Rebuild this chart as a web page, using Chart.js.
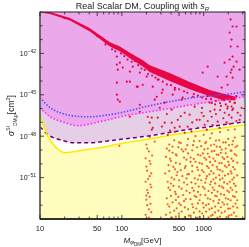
<!DOCTYPE html>
<html>
<head>
<meta charset="utf-8">
<script src="https://cdn.jsdelivr.net/npm/chart.js@4.4.0/dist/chart.umd.min.js"></script>
<style>
  html, body { margin: 0; padding: 0; background: #fff; }
  canvas { display: block; }
</style>
</head>
<body>
<canvas id="chart" width="249" height="247"></canvas>
<script>
// all values are [log10(M / GeV), log10(sigma / cm^2)]

const massTicks = [10, 50, 100, 500, 1000];
const sigmaTickExps = [-51, -48, -45, -42];

// blue dotted limit
const blueLimit = [[1.0,-45.21],[1.122,-45.93],[1.329,-46.44],[1.61,-46.59],[1.854,-46.44],[2.037,-46.23],
  [2.341,-45.79],[2.646,-45.43],[2.951,-45.14],[3.256,-44.99],[3.512,-44.77]];
// magenta dotted limit (edge of pink region)
const magentaLimit = [[1.0,-45.93],[1.122,-46.59],[1.305,-47.02],[1.463,-47.24],[1.732,-46.95],[2.037,-46.52],
  [2.341,-46.23],[2.646,-45.93],[3.012,-45.57],[3.256,-45.35],[3.512,-45.14]];
// purple dashed projection
const purpleLimit = [[1.0,-47.31],[1.098,-47.90],[1.244,-48.26],[1.427,-48.48],[1.61,-48.48],[1.854,-48.33],
  [2.037,-48.19],[2.341,-47.97],[2.707,-47.61],[3.073,-47.31],[3.512,-46.95]];
// yellow line (neutrino floor)
const nuFloor = [[1.0,-46.44],[1.061,-47.53],[1.146,-48.48],[1.305,-49.20],[1.549,-48.98],[1.732,-48.84],
  [2.037,-48.48],[2.341,-48.19],[2.707,-47.82],[3.073,-47.53],[3.512,-47.17]];

// dense core of the scan band
const bandUpper = [[1.02,-38.9],[1.122,-39.0],[1.366,-39.43],[1.61,-40.18],[1.854,-41.2],[1.976,-41.5],
  [2.098,-41.95],[2.256,-42.5],[2.341,-42.85],[2.585,-43.42],[2.829,-44.08],[3.073,-44.66],[3.256,-44.95],[3.39,-45.15]];
const bandLower = [[1.03,-39.06],[1.122,-39.15],[1.366,-39.62],[1.61,-40.42],[1.854,-41.5],[1.976,-41.85],
  [2.098,-42.35],[2.256,-42.95],[2.341,-43.35],[2.585,-44.0],[2.829,-44.6],[3.073,-45.1],[3.256,-45.4],[3.39,-45.4]];

// scattered points above the limits
const upperPoints = [[1.939,-42.23],[1.976,-42.67],[2.012,-43.03],[2.098,-43.32],[2.134,-42.96],[2.22,-43.39],
  [1.939,-44.12],[2.061,-44.05],[2.183,-44.41],[2.256,-44.27],[2.305,-43.68],[1.939,-42.81],[1.951,-43.18],
  [1.939,-44.99],[1.951,-45.35],[2.098,-44.05],[2.195,-44.41],[2.439,-43.9],[2.488,-44.85],[2.646,-44.63],
  [2.732,-45.35],[2.988,-43.39],[3.049,-42.96],[3.171,-43.68],[3.256,-42.67],[3.293,-44.27],[3.341,-43.18],
  [3.402,-42.59],[3.22,-44.48],[3.098,-44.85],[3.329,-39.54],[3.354,-40.05],[3.317,-40.49],[3.341,-41.0],
  [3.329,-41.5],[3.354,-42.23],[3.317,-42.45],[3.366,-42.96],[3.329,-43.39],[3.354,-43.76],[3.402,-40.05],
  [3.415,-41.5],[3.439,-43.18],[3.28,-43.68],[2.866,-45.14],[2.22,-45.72],[2.524,-45.57],[2.402,-45.35],
  [2.378,-44.41],[2.5,-44.63],[2.427,-45.14],[2.622,-44.99],[2.744,-45.21],
  [3.05,-45.1],[3.09,-45.3],[3.12,-45.0],[3.15,-45.45],[3.18,-45.2],[3.2,-45.6],[3.23,-45.05],[3.25,-45.4],
  [3.27,-45.7],[3.3,-45.2],[3.32,-45.5],[3.34,-45.85],[3.36,-45.3],[3.38,-45.6],[3.4,-45.1],[3.21,-45.8],
  [3.14,-45.7],[3.29,-46.0],[3.35,-46.1],[3.1,-45.6],
  [1.88,-41.7],[1.92,-41.85],[1.99,-42.0],[2.03,-42.2],[2.07,-42.45],[2.12,-42.6],[2.16,-42.55],[2.2,-42.85],
  [2.24,-43.1],[2.28,-43.2],[2.32,-43.5],[2.37,-43.6],[2.41,-43.75],[2.45,-43.9],[2.5,-44.05],[2.55,-44.25],
  [2.6,-44.3],[2.65,-44.5],[2.7,-44.6],[2.76,-44.75],[2.8,-44.85],[2.88,-44.95],[2.93,-45.05],[2.98,-45.2],
  [3.03,-45.3],[1.75,-40.9],[1.7,-40.75],[1.8,-41.35],[1.5,-39.95],[1.3,-39.45]];

// points between the limits and the neutrino floor
const midPoints = [[2.317,-46.59],[2.341,-47.02],[2.366,-47.53],[2.341,-48.04],[2.439,-46.66],[2.524,-47.02],
  [2.61,-46.08],[2.646,-47.39],[2.683,-46.81],[2.768,-46.3],[2.805,-47.31],[2.89,-45.86],[2.915,-46.81],
  [2.976,-46.3],[3.012,-47.17],[3.073,-45.57],[3.098,-46.59],[3.134,-46.08],[3.171,-46.95],[3.22,-45.35],
  [3.256,-46.3],[3.293,-45.86],[3.341,-46.66],[3.378,-45.57],[3.415,-46.3],[3.463,-45.94],[1.976,-45.5],
  [2.366,-46.66],[2.378,-47.39],[2.61,-47.02],[2.646,-47.68],[2.561,-47.9],[2.707,-47.31],[2.829,-46.44],
  [2.951,-46.81],[3.037,-47.53],[3.195,-47.39],[3.317,-47.1],[3.439,-46.81],[2.768,-47.75],[2.463,-45.94],
  [2.22,-46.23],[2.098,-46.59],[2.86,-47.0],[2.93,-47.4],[3.0,-46.55],[3.05,-46.9],[3.11,-47.2],[3.15,-46.4],
  [3.24,-46.7],[3.28,-47.0],[3.36,-46.0],[3.4,-46.9],[3.2,-46.1],[3.08,-46.2],[2.98,-45.95],[2.72,-46.55],
  [2.55,-46.4],[2.49,-47.3],[2.59,-47.6],[2.85,-47.65],[3.31,-46.45],[3.45,-46.5]];

// points below the neutrino floor
const lowPoints = [[2.30,-48.6],[2.33,-49.1],[2.29,-49.6],[2.35,-50.0],[2.31,-50.5],[2.34,-50.9],[2.29,-51.3],
  [2.36,-51.7],[2.32,-52.1],[2.30,-52.6],[2.35,-52.9],[2.33,-53.3],[2.29,-53.7],[2.37,-49.4],[2.31,-51.9],
  [2.31,-48.9],[2.34,-49.8],[2.30,-50.2],[2.36,-50.7],[2.32,-51.1],[2.35,-51.5],[2.30,-52.3],[2.34,-52.4],
  [2.31,-53.0],[2.36,-53.5],[2.33,-53.9],
  [1.97,-48.7],[2.402,-48.4],[3.1,-47.8],[3.2,-47.7],[3.3,-47.55],[3.38,-47.5],[2.9,-48.0],[3.0,-47.9],
  [2.64,-48.3],[2.81,-48.2],[2.95,-48.35],[3.08,-48.15],[3.19,-48.3],[3.30,-48.2],[3.38,-48.1],
  [2.58,-48.6],[2.72,-48.5],[2.87,-48.65],[3.02,-48.5],[3.13,-48.6],[3.24,-48.45],[3.35,-48.6],
  [2.55,-48.9],[2.69,-48.8],[2.78,-48.95],[2.92,-48.8],[3.05,-48.9],[3.16,-48.75],[3.27,-48.9],[3.39,-48.8],
  [2.62,-49.2],[2.75,-49.1],[2.99,-49.25],[3.10,-49.1],[3.21,-49.2],[3.33,-49.05],
  [2.54,-49.5],[2.67,-49.4],[2.84,-49.55],[2.96,-49.4],[3.07,-49.5],[3.18,-49.35],[3.29,-49.5],[3.40,-49.4],
  [2.60,-49.8],[2.79,-49.7],[2.90,-49.85],[3.03,-49.7],[3.14,-49.8],[3.25,-49.65],[3.36,-49.8],
  [2.57,-50.1],[2.71,-50.0],[2.86,-50.15],[2.98,-50.0],[3.11,-50.1],[3.22,-49.95],[3.31,-50.1],
  [2.65,-50.4],[2.77,-50.3],[2.93,-50.45],[3.06,-50.3],[3.17,-50.4],[3.28,-50.25],[3.38,-50.4],
  [2.53,-50.7],[2.68,-50.6],[2.82,-50.75],[3.00,-50.6],[3.12,-50.7],[3.23,-50.55],[3.34,-50.7],
  [2.61,-51.0],[2.74,-50.9],[2.89,-51.05],[3.04,-50.9],[3.15,-51.0],[3.26,-50.85],[3.37,-51.0],
  [2.56,-51.3],[2.70,-51.2],[2.85,-51.35],[2.97,-51.2],[3.09,-51.3],[3.20,-51.15],[3.32,-51.3],
  [2.63,-51.6],[2.80,-51.5],[2.94,-51.65],[3.08,-51.5],[3.19,-51.6],[3.29,-51.45],[3.39,-51.6],
  [2.59,-51.9],[2.73,-51.8],[2.88,-51.95],[3.01,-51.8],[3.13,-51.9],[3.24,-51.75],[3.35,-51.9],
  [2.66,-52.2],[2.83,-52.1],[2.96,-52.25],[3.10,-52.1],[3.21,-52.2],[3.31,-52.05],
  [2.55,-52.5],[2.69,-52.4],[2.78,-52.55],[2.91,-52.4],[3.05,-52.5],[3.16,-52.35],[3.27,-52.5],[3.38,-52.4],
  [2.62,-52.8],[2.76,-52.7],[2.99,-52.85],[3.12,-52.7],[3.23,-52.8],[3.33,-52.65],
  [2.58,-53.1],[2.72,-53.0],[2.87,-53.15],[3.03,-53.0],[3.14,-53.1],[3.25,-52.95],[3.36,-53.1],
  [2.64,-53.4],[2.81,-53.3],[2.95,-53.45],[3.07,-53.3],[3.18,-53.4],[3.30,-53.25],
  [2.54,-53.7],[2.70,-53.6],[2.84,-53.75],[2.98,-53.6],[3.11,-53.7],[3.22,-53.55],[3.34,-53.7],
  [2.61,-53.9],[2.77,-53.85],[2.92,-53.92],[3.06,-53.88],[3.17,-53.9],[3.28,-53.86],
  [2.70,-48.45],[2.88,-48.35],[3.03,-48.42],[3.15,-48.32],[3.27,-48.45],[3.36,-48.35],
  [2.62,-48.75],[2.80,-48.65],[2.97,-48.72],[3.09,-48.66],[3.20,-48.78],[3.31,-48.64],[3.41,-48.7],
  [2.58,-49.05],[2.73,-48.95],[2.86,-49.02],[3.01,-48.96],[3.13,-49.07],[3.22,-48.98],[3.34,-49.04],
  [2.66,-49.32],[2.81,-49.25],[2.93,-49.34],[3.05,-49.27],[3.16,-49.33],[3.27,-49.24],[3.38,-49.3],
  [2.59,-49.63],[2.76,-49.55],[2.88,-49.64],[3.01,-49.57],[3.12,-49.62],[3.23,-49.54],[3.34,-49.63],
  [2.66,-49.93],[2.84,-49.86],[2.95,-49.94],[3.08,-49.88],[3.19,-49.95],[3.30,-49.86],[3.41,-49.92],
  [2.63,-50.23],[2.78,-50.16],[2.92,-50.25],[3.04,-50.17],[3.16,-50.22],[3.26,-50.15],[3.36,-50.24],
  [2.58,-50.53],[2.72,-50.46],[2.86,-50.55],[2.98,-50.47],[3.09,-50.52],[3.20,-50.45],[3.33,-50.54],
  [2.67,-50.83],[2.80,-50.76],[2.95,-50.84],[3.07,-50.77],[3.19,-50.82],[3.30,-50.75],[3.41,-50.84],
  [2.64,-51.13],[2.79,-51.06],[2.93,-51.14],[3.03,-51.07],[3.12,-51.12],[3.23,-51.05],[3.35,-51.14],
  [2.60,-51.43],[2.76,-51.36],[2.90,-51.44],[3.02,-51.37],[3.14,-51.42],[3.25,-51.35],[3.37,-51.44],
  [2.57,-51.73],[2.70,-51.66],[2.86,-51.74],[2.99,-51.67],[3.11,-51.72],[3.22,-51.65],[3.33,-51.74],
  [2.65,-52.03],[2.79,-51.96],[2.93,-52.04],[3.06,-51.97],[3.17,-52.02],[3.29,-51.95],[3.40,-52.04],
  [2.60,-52.33],[2.75,-52.26],[2.89,-52.34],[3.02,-52.27],[3.14,-52.32],[3.25,-52.25],[3.36,-52.34],
  [2.66,-52.63],[2.84,-52.56],[2.95,-52.64],[3.08,-52.57],[3.19,-52.62],[3.30,-52.55],[3.41,-52.64],
  [2.56,-52.93],[2.70,-52.86],[2.86,-52.94],[2.93,-52.87],[3.06,-52.92],[3.18,-52.85],[3.29,-52.94],[3.39,-52.88],
  [2.67,-53.23],[2.77,-53.16],[2.91,-53.24],[3.00,-53.17],[3.10,-53.22],[3.21,-53.15],[3.32,-53.24],[3.41,-53.18],
  [2.59,-53.53],[2.73,-53.46],[2.88,-53.54],[3.03,-53.47],[3.14,-53.52],[3.26,-53.45],[3.37,-53.54],
  [2.66,-53.83],[2.82,-53.76],[2.95,-53.84],[3.09,-53.77],[3.20,-53.82],[3.31,-53.75],[3.40,-53.8]];

const FONT = '"Liberation Sans", Arial, sans-serif';

function toXY(pts) {
  return pts.map(p => ({ x: Math.pow(10, p[0]), y: Math.pow(10, p[1]) }));
}

// draws text pieces [text, size, dy, italic] one after another
function richText(ctx, parts, x, y, align) {
  let w = 0;
  parts.forEach(p => {
    ctx.font = (p[3] ? 'italic ' : '') + p[1] + 'px ' + FONT;
    w += ctx.measureText(p[0]).width;
  });
  let cx = align === 'center' ? x - w / 2 : (align === 'right' ? x - w : x);
  ctx.textAlign = 'left';
  ctx.textBaseline = 'alphabetic';
  parts.forEach(p => {
    ctx.font = (p[3] ? 'italic ' : '') + p[1] + 'px ' + FONT;
    ctx.fillText(p[0], cx, y + p[2]);
    cx += ctx.measureText(p[0]).width;
  });
}

const framePlugin = {
  id: 'frame',
  beforeDraw(chart) {
    const c = chart.ctx;
    c.save();
    c.fillStyle = '#fff';
    c.fillRect(0, 0, chart.width, chart.height);
    c.restore();
  },
  afterDraw(chart) {
    const c = chart.ctx;
    const a = chart.chartArea;
    const xs = chart.scales.x, ys = chart.scales.y;
    c.save();

    // frame
    c.strokeStyle = '#222';
    c.lineWidth = 1;
    c.strokeRect(a.left, a.top, a.right - a.left, a.bottom - a.top);
    c.strokeStyle = '#666';
    c.lineWidth = 1.6;
    c.beginPath(); c.moveTo(a.left, a.top); c.lineTo(a.left, a.bottom); c.stroke();
    c.strokeStyle = '#111';
    c.lineWidth = 1.3;
    c.beginPath(); c.moveTo(a.left, a.bottom); c.lineTo(a.right, a.bottom); c.stroke();

    // x ticks, top and bottom
    c.strokeStyle = '#222';
    c.lineWidth = 0.8;
    for (let d = 10; d <= 1000; d *= 10) {
      for (let k = 1; k < 10; k++) {
        const v = d * k;
        if (v > xs.max) break;
        const px = xs.getPixelForValue(v);
        const len = massTicks.includes(v) ? 4 : 2.5;
        c.beginPath();
        c.moveTo(px, a.bottom); c.lineTo(px, a.bottom - len);
        c.moveTo(px, a.top); c.lineTo(px, a.top + len);
        c.stroke();
      }
    }
    // y ticks, left and right
    for (let e = -54; e <= -39; e++) {
      const py = ys.getPixelForValue(Math.pow(10, e));
      const len = sigmaTickExps.includes(e) ? 4 : 2.5;
      c.beginPath();
      c.moveTo(a.left, py); c.lineTo(a.left + len, py);
      c.moveTo(a.right, py); c.lineTo(a.right - len, py);
      c.stroke();
    }

    // y tick labels
    c.fillStyle = '#222';
    sigmaTickExps.forEach(e => {
      const py = ys.getPixelForValue(Math.pow(10, e));
      richText(c, [['10', 7, 0], ['\u2212' + Math.abs(e), 5, -3]], a.left - 4, py + 2.5, 'right');
    });

    // title
    c.fillStyle = '#222';
    richText(c, [['Real Scalar DM, Coupling with ', 9, 0], ['s', 9, 0, true], ['R', 6, 2, true]],
      (a.left + a.right) / 2, 8.5, 'center');

    // x axis title
    richText(c, [['M', 8, 0, true], ['\u03c6', 6, 1.5, true], ['DM', 4.5, 3], ['[GeV]', 8, 0]],
      (a.left + a.right) / 2, 242.5, 'center');

    // y axis title
    c.translate(14, (a.top + a.bottom) / 2);
    c.rotate(-Math.PI / 2);
    richText(c, [['\u03c3', 8.5, 0, true], ['SI', 5, -4.5], ['DM,p', 5, 2.5], ['[cm', 8.5, 0], ['2', 5.5, -4], [']', 8.5, 0]],
      0, 0, 'center');
    c.restore();
  }
};

new Chart(document.getElementById('chart'), {
  type: 'scatter',
  data: {
    datasets: [
      { data: toXY(lowPoints), backgroundColor: 'rgb(243,95,40)', pointRadius: 1.1, pointBorderWidth: 0, order: 1 },
      { data: toXY(midPoints), backgroundColor: 'rgb(232,20,55)', pointRadius: 1.1, pointBorderWidth: 0, order: 2 },
      { data: toXY(upperPoints), backgroundColor: 'rgb(232,5,70)', pointRadius: 1.1, pointBorderWidth: 0, order: 3 },
      { data: toXY(blueLimit), showLine: true, pointRadius: 0, borderColor: 'rgb(90,80,255)', borderWidth: 1.6,
        borderDash: [1.5, 1.6], cubicInterpolationMode: 'monotone', fill: false, order: 6 },
      { data: toXY(bandUpper.concat(bandLower.slice().reverse())), showLine: true, pointRadius: 0, borderWidth: 0,
        borderColor: 'rgba(0,0,0,0)', backgroundColor: 'rgb(232,5,70)', fill: 'shape', tension: 0, order: 7 },
      { data: toXY(nuFloor), showLine: true, pointRadius: 0, borderColor: 'rgb(250,235,0)', borderWidth: 1.5,
        backgroundColor: 'rgb(255,253,190)', fill: 'start', cubicInterpolationMode: 'monotone', order: 8 },
      { data: toXY(magentaLimit), showLine: true, pointRadius: 0, borderColor: 'rgb(255,40,255)', borderWidth: 1.6,
        borderDash: [1.5, 2], backgroundColor: 'rgb(235,168,235)', fill: 'end', cubicInterpolationMode: 'monotone', order: 9 },
      { data: toXY(purpleLimit), showLine: true, pointRadius: 0, borderColor: 'rgb(115,0,115)', borderWidth: 1.5,
        borderDash: [4, 3], backgroundColor: 'rgb(230,206,230)', fill: 'end', cubicInterpolationMode: 'monotone', order: 10 }
    ]
  },
  options: {
    responsive: false,
    animation: false,
    layout: { padding: { top: 12, right: 3, left: 0, bottom: 0 } },
    plugins: {
      legend: { display: false },
      tooltip: { enabled: false },
      filler: { drawTime: 'beforeDatasetsDraw' }
    },
    scales: {
      x: {
        type: 'logarithmic', min: 10, max: 3200,
        grid: { display: false, drawTicks: false }, border: { display: false },
        afterBuildTicks: s => { s.ticks = massTicks.map(v => ({ value: v })); },
        afterFit: s => { s.height = 28; },
        ticks: { callback: v => String(v), font: { size: 7.5, family: FONT }, color: '#222',
          padding: 5, maxRotation: 0, autoSkip: false }
      },
      y: {
        type: 'logarithmic', min: 1e-54, max: 1e-39,
        grid: { display: false, drawTicks: false }, border: { display: false },
        ticks: { display: false },
        afterFit: s => { s.width = 40; }
      }
    }
  },
  plugins: [framePlugin]
});
</script>
</body>
</html>
